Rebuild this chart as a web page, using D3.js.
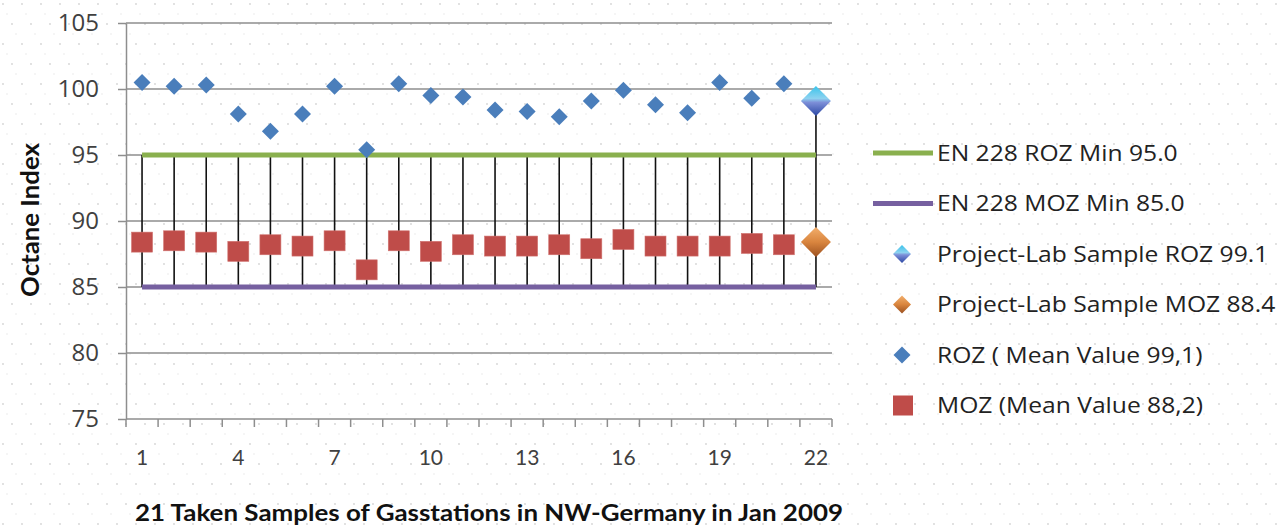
<!DOCTYPE html>
<html>
<head>
<meta charset="utf-8">
<script src="https://cdn.jsdelivr.net/npm/d3@7"></script>
<style>
body { margin: 0; background: #fff; }
svg { display: block; }
</style>
</head>
<body>
<svg id="chart" width="1279" height="525"></svg>
<script>
// 22 sample positions on the x axis, 22 is the project-lab sample
let categories = [1,2,3,4,5,6,7,8,9,10,11,12,13,14,15,16,17,18,19,20,21,22]
let x_labels = [1,4,7,10,13,16,19,22]
let y_ticks = [75,80,85,90,95,100,105]

// octane values of the 21 gas stations
let roz_values = [100.5,100.2,100.3,98.1,96.8,98.1,100.2,95.4,100.4,99.5,99.4,98.4,98.3,97.9,99.1,99.9,98.8,98.2,100.5,99.3,100.4]
let moz_values = [88.4,88.5,88.4,87.7,88.2,88.1,88.5,86.3,88.5,87.7,88.2,88.1,88.1,88.2,87.9,88.6,88.1,88.1,88.1,88.3,88.2]

// project lab sample (category 22)
let lab_category = 22
let lab_roz = 99.1
let lab_moz = 88.4

// EN 228 minimums
let roz_min = 95.0
let moz_min = 85.0

let legend_labels = [
  'EN 228 ROZ Min 95.0',
  'EN 228 MOZ Min 85.0',
  'Project-Lab Sample ROZ 99.1',
  'Project-Lab Sample MOZ 88.4',
  'ROZ ( Mean Value 99,1)',
  'MOZ (Mean Value 88,2)'
]

let col_green = '#8ab04e'
let col_purple = '#7660a0'
let col_blue = '#4a7ebb'
let col_red = '#bf4c49'
let col_grid = '#8e8e8e'
let col_text = '#404040'

let svg = d3.select('#chart')

let x = d3.scaleBand()
.domain(categories)
.range([126, 832])

let y = d3.scaleLinear()
.domain([75, 105])
.range([419, 23])

let cx = d => x(d) + x.bandwidth()/2

// background dots
let defs = svg.append('defs')

let pat = defs.append('pattern')
.attr('id', 'dots')
.attr('width', 19)
.attr('height', 40)
.attr('patternUnits', 'userSpaceOnUse')

pat.append('circle').attr('cx', 3).attr('cy', 4).attr('r', 0.9).attr('fill', '#d4d4d4')
pat.append('circle').attr('cx', 12).attr('cy', 24).attr('r', 0.9).attr('fill', '#d4d4d4')
pat.append('circle').attr('cx', 7).attr('cy', 14).attr('r', 0.7).attr('fill', '#e2e2e2')
pat.append('circle').attr('cx', 16).attr('cy', 34).attr('r', 0.7).attr('fill', '#e2e2e2')

svg.append('rect')
.attr('width', 1279)
.attr('height', 525)
.attr('fill', 'url(#dots)')

let g_roz = defs.append('linearGradient')
.attr('id', 'lab_roz')
.attr('x1', 0).attr('y1', 0).attr('x2', 0).attr('y2', 1)
g_roz.append('stop').attr('offset', '0%').attr('stop-color', '#39c3ea')
g_roz.append('stop').attr('offset', '42%').attr('stop-color', '#8dd2f0')
g_roz.append('stop').attr('offset', '55%').attr('stop-color', '#7d8fd8')
g_roz.append('stop').attr('offset', '100%').attr('stop-color', '#2c48a4')

let g_moz = defs.append('linearGradient')
.attr('id', 'lab_moz')
.attr('x1', 0).attr('y1', 0).attr('x2', 0).attr('y2', 1)
g_moz.append('stop').attr('offset', '0%').attr('stop-color', '#f2ae6c')
g_moz.append('stop').attr('offset', '50%').attr('stop-color', '#d9853e')
g_moz.append('stop').attr('offset', '100%').attr('stop-color', '#9b5020')

// gridlines
svg.append('g')
.selectAll('line')
.data(y_ticks)
.join('line')
.attr('x1', 126)
.attr('x2', 832)
.attr('y1', d => y(d))
.attr('y2', d => y(d))
.attr('stroke', col_grid)
.attr('stroke-width', 1.5)

// y axis
let y_axis = svg.append('g')
.attr('transform', 'translate(126,0)')
.call(d3.axisLeft(y).tickValues(y_ticks).tickSize(8).tickSizeOuter(0).tickPadding(19))

y_axis.select('.domain').attr('stroke', col_grid).attr('stroke-width', 1.5)
y_axis.selectAll('.tick line').attr('stroke', col_grid).attr('stroke-width', 1.5)
y_axis.selectAll('.tick text')
.attr('fill', col_text)
.style('font-family', '"Open Sans", sans-serif')
.style('font-size', '24px')

// x axis boundary ticks
let bounds = categories.map(d => x(d)).concat([x.range()[1]])

svg.append('g')
.selectAll('line')
.data(bounds)
.join('line')
.attr('x1', d => d)
.attr('x2', d => d)
.attr('y1', y(75))
.attr('y2', y(75) + 8)
.attr('stroke', col_grid)
.attr('stroke-width', 1.5)

let x_axis = svg.append('g')
.attr('transform', 'translate(0,' + y(75) + ')')
.call(d3.axisBottom(x).tickValues(x_labels).tickSize(0).tickPadding(31))

x_axis.select('.domain').remove()
x_axis.selectAll('.tick text')
.attr('fill', col_text)
.style('font-family', 'Lato, sans-serif')
.style('font-size', '21px')

// high-low lines
let hl = categories.map(function(c){
  let top = c == lab_category ? lab_roz : roz_min
  return {c: c, top: top, bottom: moz_min}
})

svg.append('g')
.selectAll('line')
.data(hl)
.join('line')
.attr('x1', d => cx(d.c))
.attr('x2', d => cx(d.c))
.attr('y1', d => y(d.top))
.attr('y2', d => y(d.bottom))
.attr('stroke', '#111')
.attr('stroke-width', 1.6)

// EN 228 lines
svg.append('line')
.attr('x1', cx(categories[0]))
.attr('x2', cx(lab_category))
.attr('y1', y(roz_min))
.attr('y2', y(roz_min))
.attr('stroke', col_green)
.attr('stroke-width', 5)

svg.append('line')
.attr('x1', cx(categories[0]))
.attr('x2', cx(lab_category))
.attr('y1', y(moz_min))
.attr('y2', y(moz_min))
.attr('stroke', col_purple)
.attr('stroke-width', 5)

let diamond = r => `M0,${-r}L${r},0L0,${r}L${-r},0Z`

// ROZ diamonds
svg.append('g')
.selectAll('path')
.data(roz_values)
.join('path')
.attr('transform', (d, i) => `translate(${cx(categories[i])},${y(d)})`)
.attr('d', diamond(8.5))
.attr('fill', col_blue)

// MOZ squares
svg.append('g')
.selectAll('rect')
.data(moz_values)
.join('rect')
.attr('x', (d, i) => cx(categories[i]) - 10.5)
.attr('y', d => y(d) - 10)
.attr('width', 21)
.attr('height', 20)
.attr('fill', col_red)
.attr('stroke', '#d0726f')
.attr('stroke-width', 0.6)

// project lab sample
svg.append('path')
.attr('transform', `translate(${cx(lab_category)},${y(lab_roz)})`)
.attr('d', diamond(15))
.attr('fill', 'url(#lab_roz)')

svg.append('path')
.attr('transform', `translate(${cx(lab_category)},${y(lab_moz)})`)
.attr('d', diamond(15))
.attr('fill', 'url(#lab_moz)')

// axis titles
svg.append('text')
.attr('transform', 'translate(31,220) rotate(-90)')
.attr('text-anchor', 'middle')
.attr('dy', '0.35em')
.attr('fill', '#111')
.attr('textLength', 154)
.attr('lengthAdjust', 'spacingAndGlyphs')
.style('font-family', 'Lato, sans-serif')
.style('font-weight', 'bold')
.style('font-size', '24px')
.text('Octane Index')

svg.append('text')
.attr('x', 135)
.attr('y', 521)
.attr('fill', '#111')
.attr('textLength', 708)
.attr('lengthAdjust', 'spacingAndGlyphs')
.style('font-family', 'Lato, sans-serif')
.style('font-weight', 'bold')
.style('font-size', '23px')
.text('21 Taken Samples of Gasstations  in NW-Germany in Jan 2009')

// legend
let legend = svg.append('g')
.selectAll('g')
.data(legend_labels)
.join('g')
.attr('transform', (d, i) => `translate(0,${153 + i*50.5})`)

legend.append('text')
.attr('transform', 'translate(937,0) scale(1.12,1)')
.attr('dy', '0.35em')
.attr('fill', '#222')
.style('font-family', '"Open Sans", sans-serif')
.style('font-size', '22px')
.text(d => d)

legend.each(function(d, i){
  let sel = d3.select(this)
  if (i == 0 || i == 1){
    sel.append('line')
    .attr('x1', 873).attr('x2', 933)
    .attr('y1', 0).attr('y2', 0)
    .attr('stroke', i == 0 ? col_green : col_purple)
    .attr('stroke-width', 5)
  }
  else if (i == 2 || i == 3){
    sel.append('path')
    .attr('transform', 'translate(902,0)')
    .attr('d', diamond(9))
    .attr('fill', i == 2 ? 'url(#lab_roz)' : 'url(#lab_moz)')
  }
  else if (i == 4){
    sel.append('path')
    .attr('transform', 'translate(902,0)')
    .attr('d', diamond(8.5))
    .attr('fill', col_blue)
  }
  else {
    sel.append('rect')
    .attr('x', 893).attr('y', -10)
    .attr('width', 20).attr('height', 20)
    .attr('fill', col_red)
  }
})
</script>
</body>
</html>
